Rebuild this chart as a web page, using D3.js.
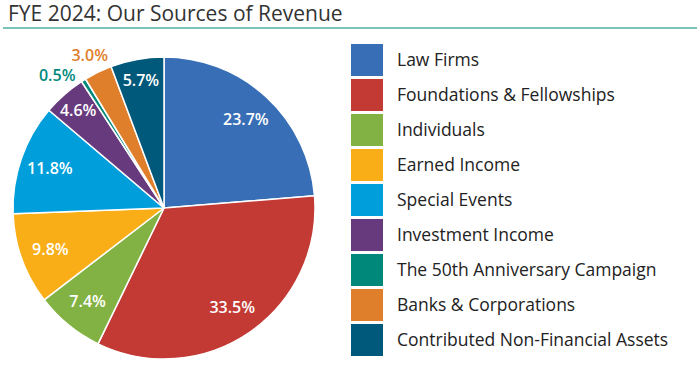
<!DOCTYPE html>
<html>
<head>
<meta charset="utf-8">
<script src="https://cdn.jsdelivr.net/npm/d3@7"></script>
<style>
  body { margin: 0; background: #fff; }
  svg { display: block; font-family: "Open Sans", sans-serif; }
</style>
</head>
<body>
<div id="content"></div>
<script>
// Data-set.
var categories = [
  'Law Firms',
  'Foundations & Fellowships',
  'Individuals',
  'Earned Income',
  'Special Events',
  'Investment Income',
  'The 50th Anniversary Campaign',
  'Banks & Corporations',
  'Contributed Non-Financial Assets'
];
var shares = [23.7, 33.5, 7.4, 9.8, 11.8, 4.6, 0.5, 3.0, 5.7];
var colours = ['#376eb5', '#c33a35', '#82b243', '#f9ae17', '#009fdb',
               '#673a7e', '#00897b', '#e07f2b', '#00587a'];
var titleText = 'FYE 2024: Our Sources of Revenue';

var width = 699, height = 378;
var svg = d3.select('#content')
              .append('svg')
              .attr('width', width)
              .attr('height', height);

// Title and rule underneath.
svg.append('text')
    .attr('x', 8)
    .attr('y', 21)
    .attr('font-size', 21)
    .attr('fill', '#333')
    .text(titleText);

svg.append('rect')
    .attr('x', 3)
    .attr('y', 27)
    .attr('width', 694)
    .attr('height', 2)
    .attr('fill', '#7dc3bb');

// Pie.
var cx = 164, cy = 208, radius = 151;
var g = svg.append('g').attr('transform', 'translate(' + cx + ',' + cy + ')');

var colour = d3.scaleOrdinal().domain(categories).range(colours);

var pie = d3.pie().sort(null).value(function(d) { return d.value; });
var rows = categories.map(function(c, i) { return {name : c, value : shares[i]}; });
var arcs = pie(rows);

var arc = d3.arc().innerRadius(0).outerRadius(radius);

g.selectAll('path')
    .data(arcs)
    .enter()
    .append('path')
    .attr('d', arc)
    .attr('fill', function(d) { return colour(d.data.name); })
    .attr('stroke', '#fff')
    .attr('stroke-width', 1.5)
    .attr('stroke-linejoin', 'round');

// Inside labels: big slices a bit closer to the centre than small ones.
function mid(d) { return (d.startAngle + d.endAngle) / 2; }
function labelR(d) { return d.data.value >= 7 ? radius * 0.8 : radius * 0.86; }
var inside = arcs.filter(function(d) { return d.data.value >= 3.5; });
g.selectAll('text.in')
    .data(inside)
    .enter()
    .append('text')
    .attr('class', 'in')
    .attr('x', function(d) { return labelR(d) * Math.sin(mid(d)); })
    .attr('y', function(d) { return -labelR(d) * Math.cos(mid(d)); })
    .attr('dy', '0.35em')
    .attr('text-anchor', 'middle')
    .attr('font-size', 16)
    .attr('font-weight', 600)
    .attr('fill', '#fff')
    .text(function(d) { return d.data.value.toFixed(1) + '%'; });

// Outside labels for tiny slices, pushed apart anticlockwise.
var outside = arcs.filter(function(d) { return d.data.value < 3.5; })
                  .sort(function(a, b) { return mid(b) - mid(a); });
var step = 13 * Math.PI / 180, prev = Infinity;
outside.forEach(function(d) {
  d.labelAngle = Math.min(mid(d), prev - step);
  prev = d.labelAngle;
});
g.selectAll('text.out')
    .data(outside)
    .enter()
    .append('text')
    .attr('class', 'out')
    .attr('x', function(d) { return (radius + 19) * Math.sin(d.labelAngle); })
    .attr('y', function(d) { return -(radius + 19) * Math.cos(d.labelAngle); })
    .attr('dy', '0.35em')
    .attr('text-anchor', 'middle')
    .attr('font-size', 16)
    .attr('font-weight', 600)
    .attr('fill', function(d) { return colour(d.data.name); })
    .text(function(d) { return d.data.value.toFixed(1) + '%'; });

// Legend.
var legend = svg.append('g').attr('transform', 'translate(351,44)');
var items = legend.selectAll('g')
                .data(categories)
                .enter()
                .append('g')
                .attr('transform', function(d, i) { return 'translate(0,' + i * 35 + ')'; });

items.append('rect')
    .attr('width', 32)
    .attr('height', 32)
    .attr('fill', function(d) { return colour(d); });

items.append('text')
    .attr('x', 46)
    .attr('y', 16)
    .attr('dy', '0.35em')
    .attr('font-size', 17.5)
    .attr('fill', '#222')
    .text(function(d) { return d; });
</script>
</body>
</html>
